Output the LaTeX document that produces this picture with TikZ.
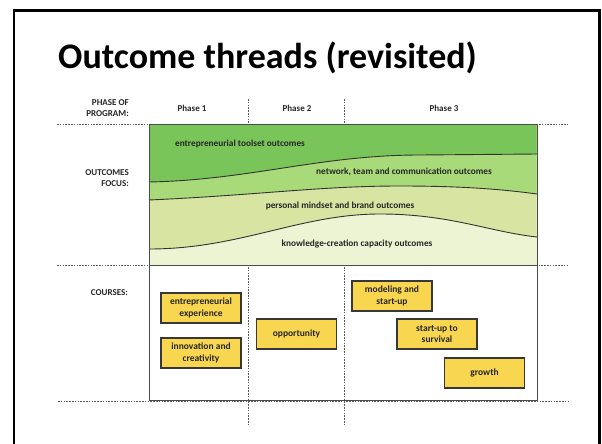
\documentclass[tikz,border=0pt]{standalone}
\usepackage{fontspec}
\setmainfont{Carlito}
\definecolor{bandA}{RGB}{122,197,90}
\definecolor{bandB}{RGB}{168,218,122}
\definecolor{bandC}{RGB}{215,228,162}
\definecolor{bandD}{RGB}{236,244,211}
\definecolor{boxfill}{RGB}{249,214,80}
\definecolor{txt}{RGB}{38,38,38}
\definecolor{dotc}{RGB}{90,90,90}
\tikzset{
  dotline/.style={draw=dotc, line width=0.9pt, dash pattern=on 1.6pt off 1.2pt},
  lbl/.style={font=\bfseries\fontsize{9}{11}\selectfont, text=txt, align=right, anchor=east, inner sep=0pt},
  phaselbl/.style={font=\bfseries\fontsize{9}{11}\selectfont, text=txt, inner sep=0pt},
  bandlbl/.style={font=\bfseries\fontsize{9.3}{11}\selectfont, text=txt, inner sep=0pt},
  course/.style={draw={rgb,255:red,55;green,55;blue,55}, line width=1.1pt, fill=boxfill,
    minimum width=80pt, minimum height=30pt, inner sep=0pt, align=center,
    font=\bfseries\fontsize{9.5}{11.2}\selectfont, text=txt},
}
\begin{document}
\begin{tikzpicture}[x=1pt,y=-1pt]
\useasboundingbox (0,0) rectangle (602,444);
% slide frame
\draw[line width=2.4pt] (14,446) -- (14,10.5) -- (599.5,10.5) -- (599.5,446);
% title
\node[anchor=base west, inner sep=0pt, font=\bfseries\fontsize{36}{40}\selectfont] (title) at (58,69) {Outcome threads (revisited)};
% row labels
\node[lbl] (phaseof) at (129,108) {PHASE OF\\PROGRAM:};
\node[lbl] (focus) at (129,178) {OUTCOMES\\FOCUS:};
\node[lbl] (courses) at (128,293) {COURSES:};
\node[phaselbl] (p1) at (192,108) {Phase 1};
\node[phaselbl] (p2) at (297,108) {Phase 2};
\node[phaselbl] (p3) at (444,108) {Phase 3};
% bands
\fill[bandD] (149,124.5) rectangle (537,265);
\fill[bandC] (149,124.5) -- (149,249) .. controls (240,249) and (300,214) .. (380,214) .. controls (450,214) and (490,232) .. (537,237) -- (537,124.5) -- cycle;
\fill[bandB] (149,124.5) -- (149,200) .. controls (260,195) and (320,186) .. (400,186) .. controls (460,186) and (500,189) .. (537,194) -- (537,124.5) -- cycle;
\fill[bandA] (149,124.5) -- (149,182) .. controls (250,180) and (320,155) .. (420,155) -- (537,154) -- (537,124.5) -- cycle;
\draw[line width=0.9pt, draw=black!80] (149,249) .. controls (240,249) and (300,214) .. (380,214) .. controls (450,214) and (490,232) .. (537,237);
\draw[line width=0.9pt, draw=black!80] (149,200) .. controls (260,195) and (320,186) .. (400,186) .. controls (460,186) and (500,189) .. (537,194);
\draw[line width=0.9pt, draw=black!80] (149,182) .. controls (250,180) and (320,155) .. (420,155) -- (537,154);
\draw[line width=1pt, draw=black!70] (149,124.5) rectangle (537,265);
\node[bandlbl] (b1) at (240,144) {entrepreneurial toolset outcomes};
\node[bandlbl] (b2) at (404,172) {network, team and communication outcomes};
\node[bandlbl] (b3) at (340,206) {personal mindset and brand outcomes};
\node[bandlbl] (b4) at (357,244) {knowledge-creation capacity outcomes};
% courses area
\draw[line width=1pt, draw=black!70] (149,265) rectangle (537,400.5);
% dotted guides
\coordinate (hl1) at (57,124.5); \coordinate (hl1e) at (147,124.5);
\coordinate (hr1) at (539,124.5); \coordinate (hr1e) at (568,124.5);
\draw[dotline] (hl1) -- (hl1e);
\draw[dotline] (hr1) -- (hr1e);
\coordinate (hl2) at (57,265.5); \coordinate (hl2e) at (568,265.5);
\draw[dotline] (hl2) -- (hl2e);
\coordinate (hl3) at (58,401.5); \coordinate (hl3e) at (568,401.5);
\draw[dotline] (hl3) -- (hl3e);
\coordinate (v1t) at (248.5,99); \coordinate (v1b) at (248.5,425);
\coordinate (v2t) at (344,99); \coordinate (v2b) at (344,425);
\draw[dotline] (v1t) -- (v1b);
\draw[dotline] (v2t) -- (v2b);
% redraw band over verticals
\begin{scope}
\fill[bandD] (149.5,125) rectangle (536.5,264.5);
\fill[bandC] (149.5,125) -- (149.5,249) .. controls (240,249) and (300,214) .. (380,214) .. controls (450,214) and (490,232) .. (536.5,237) -- (536.5,125) -- cycle;
\fill[bandB] (149.5,125) -- (149.5,200) .. controls (260,195) and (320,186) .. (400,186) .. controls (460,186) and (500,189) .. (536.5,194) -- (536.5,125) -- cycle;
\fill[bandA] (149.5,125) -- (149.5,182) .. controls (250,180) and (320,155) .. (420,155) -- (536.5,154) -- (536.5,125) -- cycle;
\draw[line width=0.9pt, draw=black!80] (149,249) .. controls (240,249) and (300,214) .. (380,214) .. controls (450,214) and (490,232) .. (537,237);
\draw[line width=0.9pt, draw=black!80] (149,200) .. controls (260,195) and (320,186) .. (400,186) .. controls (460,186) and (500,189) .. (537,194);
\draw[line width=0.9pt, draw=black!80] (149,182) .. controls (250,180) and (320,155) .. (420,155) -- (537,154);
\draw[line width=1pt, draw=black!70] (149,124.5) rectangle (537,265);
\node[bandlbl] at (240,144) {entrepreneurial toolset outcomes};
\node[bandlbl] at (404,172) {network, team and communication outcomes};
\node[bandlbl] at (340,206) {personal mindset and brand outcomes};
\node[bandlbl] at (357,244) {knowledge-creation capacity outcomes};
\end{scope}
% course boxes
\node[course] (c1) at (201,308) {entrepreneurial\\experience};
\node[course] (c2) at (201,353) {innovation and\\creativity};
\node[course] (c3) at (296.5,334) {opportunity};
\node[course] (c4) at (392,296) {modeling and\\start-up};
\node[course] (c5) at (437,334) {start-up to\\survival};
\node[course] (c6) at (484.5,373) {growth};
\end{tikzpicture}
\end{document}
